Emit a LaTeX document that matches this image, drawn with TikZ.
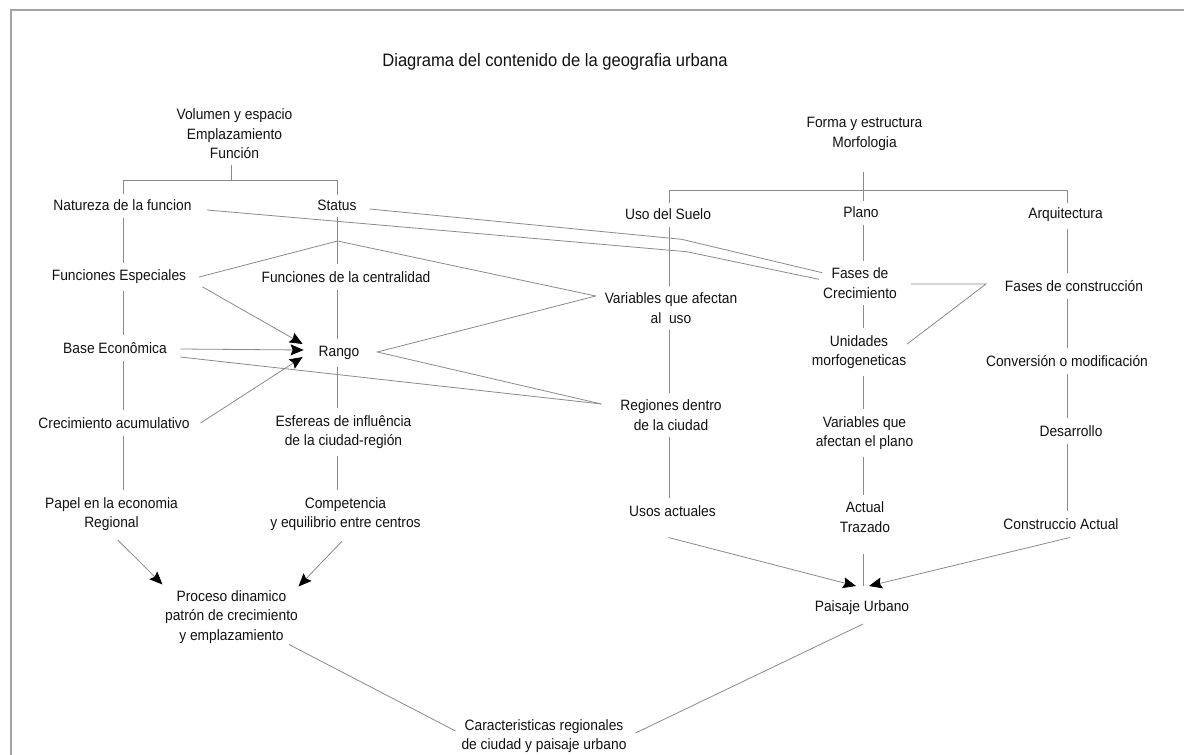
\documentclass[tikz,border=0pt]{standalone}
\usepackage{fontspec}
\newfontfamily\diafont{Liberation Sans}[FakeStretch=0.92]
\usetikzlibrary{arrows.meta,calc}
\definecolor{txtc}{HTML}{111111}
\definecolor{linec}{HTML}{8A8A8A}
\definecolor{framec}{HTML}{A4A4A4}
\begin{document}
\begin{tikzpicture}[x=1pt,y=-1pt,
  lbl/.style={font=\diafont\fontsize{15}{19.5}\selectfont, align=center, inner sep=5pt, outer sep=0pt, text=txtc},
  ttl/.style={font=\diafont\fontsize{18}{22}\selectfont, inner sep=2pt, text=txtc},
  ln/.style={draw=linec, line width=0.8pt},
  col/.style={ln, shorten <=2pt, shorten >=2pt},
  arr/.style={ln, -{Stealth[length=13pt,width=11pt,inset=2pt,color=black,fill=black]}}]
\useasboundingbox (0,0) rectangle (1184,755);
\draw[framec, line width=1.6pt] (11,755) -- (11,10) -- (1184,10);

% title
\node[ttl] (title) at (555,62) {Diagrama del contenido de la geografia urbana};

% left tree
\node[lbl] (vol) at (234.5,134) {Volumen y espacio\\Emplazamiento\\Función};
\node[lbl] (nat) at (122.5,205) {Natureza de la funcion};
\node[lbl] (sta) at (337,205) {Status};
\node[lbl] (fe) at (119,277) {Funciones Especiales};
\node[lbl] (fdc) at (346,277) {Funciones de la centralidad};
\node[lbl] (base) at (115,348) {Base Econômica};
\node[lbl] (rango) at (339,353) {Rango};
\node[lbl] (crec) at (114,423) {Crecimiento acumulativo};
\node[lbl] (esf) at (343.5,432) {Esfereas de influência\\de la ciudad-región};
\node[lbl] (papel) at (111.5,514) {Papel en la economia\\Regional};
\node[lbl] (comp) at (345.5,514) {Competencia\\y equilibrio entre centros};
\node[lbl] (proc) at (231.5,617) {Proceso dinamico\\patrón de crecimiento\\y emplazamiento};
\node[lbl] (car) at (544,736) {Caracteristicas regionales\\de ciudad y paisaje urbano};

% right tree
\node[lbl] (forma) at (864.5,134) {Forma y estructura\\Morfologia};
\node[lbl] (uso) at (668,214) {Uso del Suelo};
\node[lbl] (plano) at (861,212) {Plano};
\node[lbl] (arq) at (1065.5,215) {Arquitectura};
\node[lbl] (varuso) at (671,308) {Variables que afectan\\al\ \ uso};
\node[lbl] (fcrec) at (860,283) {Fases de\\Crecimiento};
\node[lbl] (fcons) at (1074,286) {Fases de construcción};
\node[lbl] (unid) at (859,352) {Unidades\\morfogeneticas};
\node[lbl] (conv) at (1067,361) {Conversión o modificación};
\node[lbl] (reg) at (671,415) {Regiones dentro\\de la ciudad};
\node[lbl] (varpl) at (864.5,433) {Variables que\\afectan el plano};
\node[lbl] (des) at (1071,431) {Desarrollo};
\node[lbl] (usos) at (672.5,511) {Usos actuales};
\node[lbl] (actual) at (865,517) {Actual\\Trazado};
\node[lbl] (constr) at (1061,524) {Construccio Actual};
\node[lbl] (pais) at (862,608) {Paisaje Urbano};

% column guides
\coordinate (lcol) at (123,0);
\coordinate (scol) at (337.5,0);
\coordinate (ucol) at (669,0);
\coordinate (pcol) at (863,0);
\coordinate (acol) at (1067,0);
\coordinate (lbar) at (0,180);
\coordinate (rbar) at (0,190);

% left tree structure
\draw[ln] ($(vol.south)+(-3,1)$) -- ($(vol.south |- lbar)+(-3,0)$);
\draw[ln] (lcol |- lbar) -- (scol |- lbar);
\draw[ln] (lcol |- lbar) -- (lcol |- nat.north);
\draw[ln] (scol |- lbar) -- (scol |- sta.north);
\draw[col] (lcol |- nat.south) -- (lcol |- fe.north);
\draw[col] (lcol |- fe.south) -- (lcol |- base.north);
\draw[col] (lcol |- base.south) -- (lcol |- crec.north);
\draw[col] (lcol |- crec.south) -- (lcol |- papel.north);
\draw[col] (scol |- sta.south) -- (scol |- fdc.north);
\draw[col] (scol |- fdc.south) -- (scol |- rango.north);
\draw[col] (scol |- rango.south) -- (scol |- esf.north);
\draw[col] (scol |- esf.south) -- (scol |- comp.north);

% right tree structure
\draw[ln] ($(pcol |- forma.south)+(0,17)$) -- (pcol |- rbar);
\draw[ln] (ucol |- rbar) -- (acol |- rbar);
\draw[ln] (ucol |- rbar) -- (ucol |- uso.north);
\draw[ln] (pcol |- rbar) -- (pcol |- plano.north);
\draw[ln] (acol |- rbar) -- (acol |- arq.north);
\draw[col] (ucol |- uso.south) -- (ucol |- varuso.north);
\draw[col] (ucol |- varuso.south) -- (ucol |- reg.north);
\draw[col] (ucol |- reg.south) -- (ucol |- usos.north);
\draw[col] (pcol |- plano.south) -- (pcol |- fcrec.north);
\draw[col] (pcol |- fcrec.south) -- (pcol |- unid.north);
\draw[col] (pcol |- unid.south) -- (pcol |- varpl.north);
\draw[col] (pcol |- varpl.south) -- (pcol |- actual.north);
\draw[col] (acol |- arq.south) -- (acol |- fcons.north);
\draw[col] (acol |- fcons.south) -- (acol |- conv.north);
\draw[col] (acol |- conv.south) -- (acol |- des.north);
\draw[col] (acol |- des.south) -- (acol |- constr.north);

% helper points
\coordinate (apex) at (337.5,241);
\coordinate (vtip) at ($(varuso.west)+(-4,-12)$);
\coordinate (rtip) at ($(reg.west)+(-14,-11)$);
\coordinate (rvert) at ($(rango.east)+(13,-1)$);
\coordinate (ftip) at ($(fcons.west)+(-14,-2)$);
\coordinate (b1) at (681.7,239.3);
\coordinate (b2) at (686.7,251.7);
\coordinate (ptip) at ($(pcol |- pais.north)+(0,-10)$);

% cross links
\draw[ln] ($(sta.east)+(8,4)$) -- (b1) -- ($(fcrec.west)+(4,-10.3)$);
\draw[ln] ($(nat.east)+(10.5,5)$) -- (b2) -- ($(fcrec.west)+(0.6,-3.7)$);
\draw[ln] ($(fe.east)+(8,0)$) -- (apex) -- (vtip);
\draw[ln] (vtip) -- (rvert) -- (rtip);
\draw[ln] ($(base.east)+(8.5,9)$) -- (rtip);
\draw[ln] ($(fcrec.east)+(9,1)$) -- (ftip) -- ($(unid.east)+(-4,-8)$);

% arrows to Rango
\draw[arr] ($(fe.east)+(11.5,10)$) -- ($(rango.west)+(-11,-9)$);
\draw[arr] ($(base.east)+(8.5,1)$) -- ($(rango.west)+(-10,-3)$);
\draw[arr] ($(crec.east)+(6,0)$) -- ($(rango.west)+(-11,4)$);

% lower left
\draw[arr] ($(papel.south)+(6.5,4.5)$) -- ($(proc.north)+(-69,-1)$);
\draw[arr] ($(comp.south)+(-3.5,5.5)$) -- ($(proc.north)+(67,1)$);
\draw[ln] ($(proc.south)+(57.5,-4)$) -- ($(car.west)+(-1,-5)$);

% lower right
\draw[arr] ($(usos.south)+(-4,16)$) -- ($(ptip)+(-7,0)$);
\draw[ln] ($(pcol |- actual.south)+(0,17)$) -- (ptip);
\draw[arr] ($(constr.south)+(9,3)$) -- ($(ptip)+(6,0)$);
\draw[ln] ($(pais.south)+(1,4)$) -- ($(car.east)+(4,-3)$);
\end{tikzpicture}
\end{document}
